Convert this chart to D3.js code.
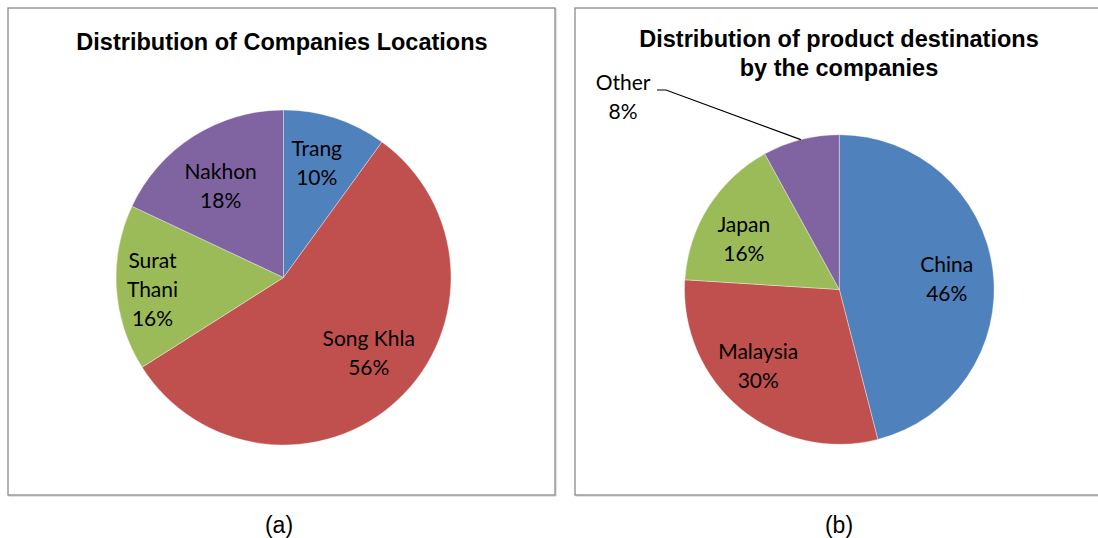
<!DOCTYPE html>
<html>
<head>
<meta charset="utf-8">
<script src="https://cdn.jsdelivr.net/npm/d3@7"></script>
<style>
  html, body { margin: 0; padding: 0; background: #fff; }
  svg { display: block; }
</style>
</head>
<body>
<svg id="chart" width="1098" height="538"></svg>
<script>
// Chart (a): where the companies are located
const locationCategories = ["Trang", "Song Khla", "Surat Thani", "Nakhon"];
const locationShares = [10, 56, 16, 18];

// Chart (b): where the products are shipped
const destinationCategories = ["China", "Malaysia", "Japan", "Other"];
const destinationShares = [46, 30, 16, 8];

const sliceColors = ["#4F81BD", "#C0504D", "#9BBB59", "#8064A2"];

const svg = d3.select("#chart");

// Panel layout and per-slice label placement
const panels = [
  {
    frame: { x: 8, y: 8, w: 547, h: 487 },
    title: ["Distribution of Companies Locations"],
    titleX: 282, titleY: 50,
    cx: 283.5, cy: 277.5, r: 167.5,
    categories: locationCategories,
    values: locationShares,
    labelLines: { "Surat Thani": ["Surat", "Thani"] },
    nudge: { "Trang": [-3, -3], "Song Khla": [5, -10], "Surat Thani": [-14, 5], "Nakhon": [0, 7] },
    caption: "(a)", captionX: 279
  },
  {
    frame: { x: 575, y: 8, w: 540, h: 487 },
    title: ["Distribution of product destinations", "by the companies"],
    titleX: 839, titleY: 47,
    cx: 839.3, cy: 289.5, r: 154.8,
    categories: destinationCategories,
    values: destinationShares,
    labelLines: {},
    nudge: { "China": [0, 3], "Malaysia": [-12, -7], "Japan": [-4, 7] },
    outside: { "Other": { x: 623, y: 97 } },
    caption: "(b)", captionX: 839
  }
];

const labelFont = "Lato, 'Open Sans', sans-serif";
const labelSize = 21;
const lineGap = 29;

panels.forEach(p => {
  const g = svg.append("g");

  // frame with a faint drop edge
  g.append("rect")
    .attr("x", p.frame.x + 1).attr("y", p.frame.y + 1)
    .attr("width", p.frame.w).attr("height", p.frame.h)
    .attr("fill", "none").attr("stroke", "#c8c8c8").attr("stroke-width", 1);
  g.append("rect")
    .attr("x", p.frame.x).attr("y", p.frame.y)
    .attr("width", p.frame.w).attr("height", p.frame.h)
    .attr("fill", "#fff").attr("stroke", "#8a8a8a").attr("stroke-width", 1.3);

  // title
  const t = g.append("text")
    .attr("x", p.titleX).attr("y", p.titleY)
    .attr("text-anchor", "middle")
    .style("font-family", "'Liberation Sans', Arial, sans-serif")
    .style("font-weight", "bold")
    .style("font-size", "23.5px")
    .attr("fill", "#000");
  p.title.forEach((line, i) => {
    t.append("tspan").attr("x", p.titleX).attr("dy", i === 0 ? 0 : 29).text(line);
  });

  // pie
  const data = p.categories.map((c, i) => ({ name: c, value: p.values[i], color: sliceColors[i] }));
  const pie = d3.pie().value(d => d.value).sort(null);
  const arcs = pie(data);
  const arc = d3.arc().innerRadius(0).outerRadius(p.r);
  const labelArc = d3.arc().innerRadius(p.r * 0.7).outerRadius(p.r * 0.7);
  const edgeArc = d3.arc().innerRadius(p.r).outerRadius(p.r);

  const pg = g.append("g").attr("transform", `translate(${p.cx},${p.cy})`);
  pg.selectAll("path.slice")
    .data(arcs)
    .join("path")
    .attr("class", "slice")
    .attr("d", arc)
    .attr("fill", d => d.data.color)
    .attr("stroke", "rgba(255,255,255,0.45)")
    .attr("stroke-width", 0.8);

  arcs.forEach(a => {
    const name = a.data.name;
    const lines = (p.labelLines[name] || [name]).concat([a.data.value + "%"]);
    let x, y;
    if (p.outside && p.outside[name]) {
      const o = p.outside[name];
      x = o.x - p.cx; y = o.y - p.cy;
      // leader line from slice edge to the label
      const [ex, ey] = edgeArc.centroid(a);
      const lx = x + 34, ly = y - 7;
      pg.append("path")
        .attr("d", `M${ex},${ey} L${lx + 9},${ly} L${lx},${ly}`)
        .attr("fill", "none").attr("stroke", "#000").attr("stroke-width", 1.2);
    } else {
      const [c0, c1] = labelArc.centroid(a);
      const n = p.nudge[name] || [0, 0];
      x = c0 + n[0]; y = c1 + n[1];
    }
    const txt = pg.append("text")
      .attr("text-anchor", "middle")
      .style("font-family", labelFont)
      .style("font-size", labelSize + "px")
      .attr("fill", "#000");
    const top = y - (lines.length - 1) * lineGap / 2;
    lines.forEach((ln, i) => {
      txt.append("tspan")
        .attr("x", x)
        .attr("y", top + i * lineGap + labelSize * 0.36)
        .text(ln);
    });
  });

  // caption below the panel
  svg.append("text")
    .attr("x", p.captionX).attr("y", 533)
    .attr("text-anchor", "middle")
    .style("font-family", "'Liberation Sans Narrow', 'Liberation Sans', Arial, sans-serif")
    .style("font-size", "23px")
    .attr("fill", "#000")
    .text(p.caption);
});
</script>
</body>
</html>
